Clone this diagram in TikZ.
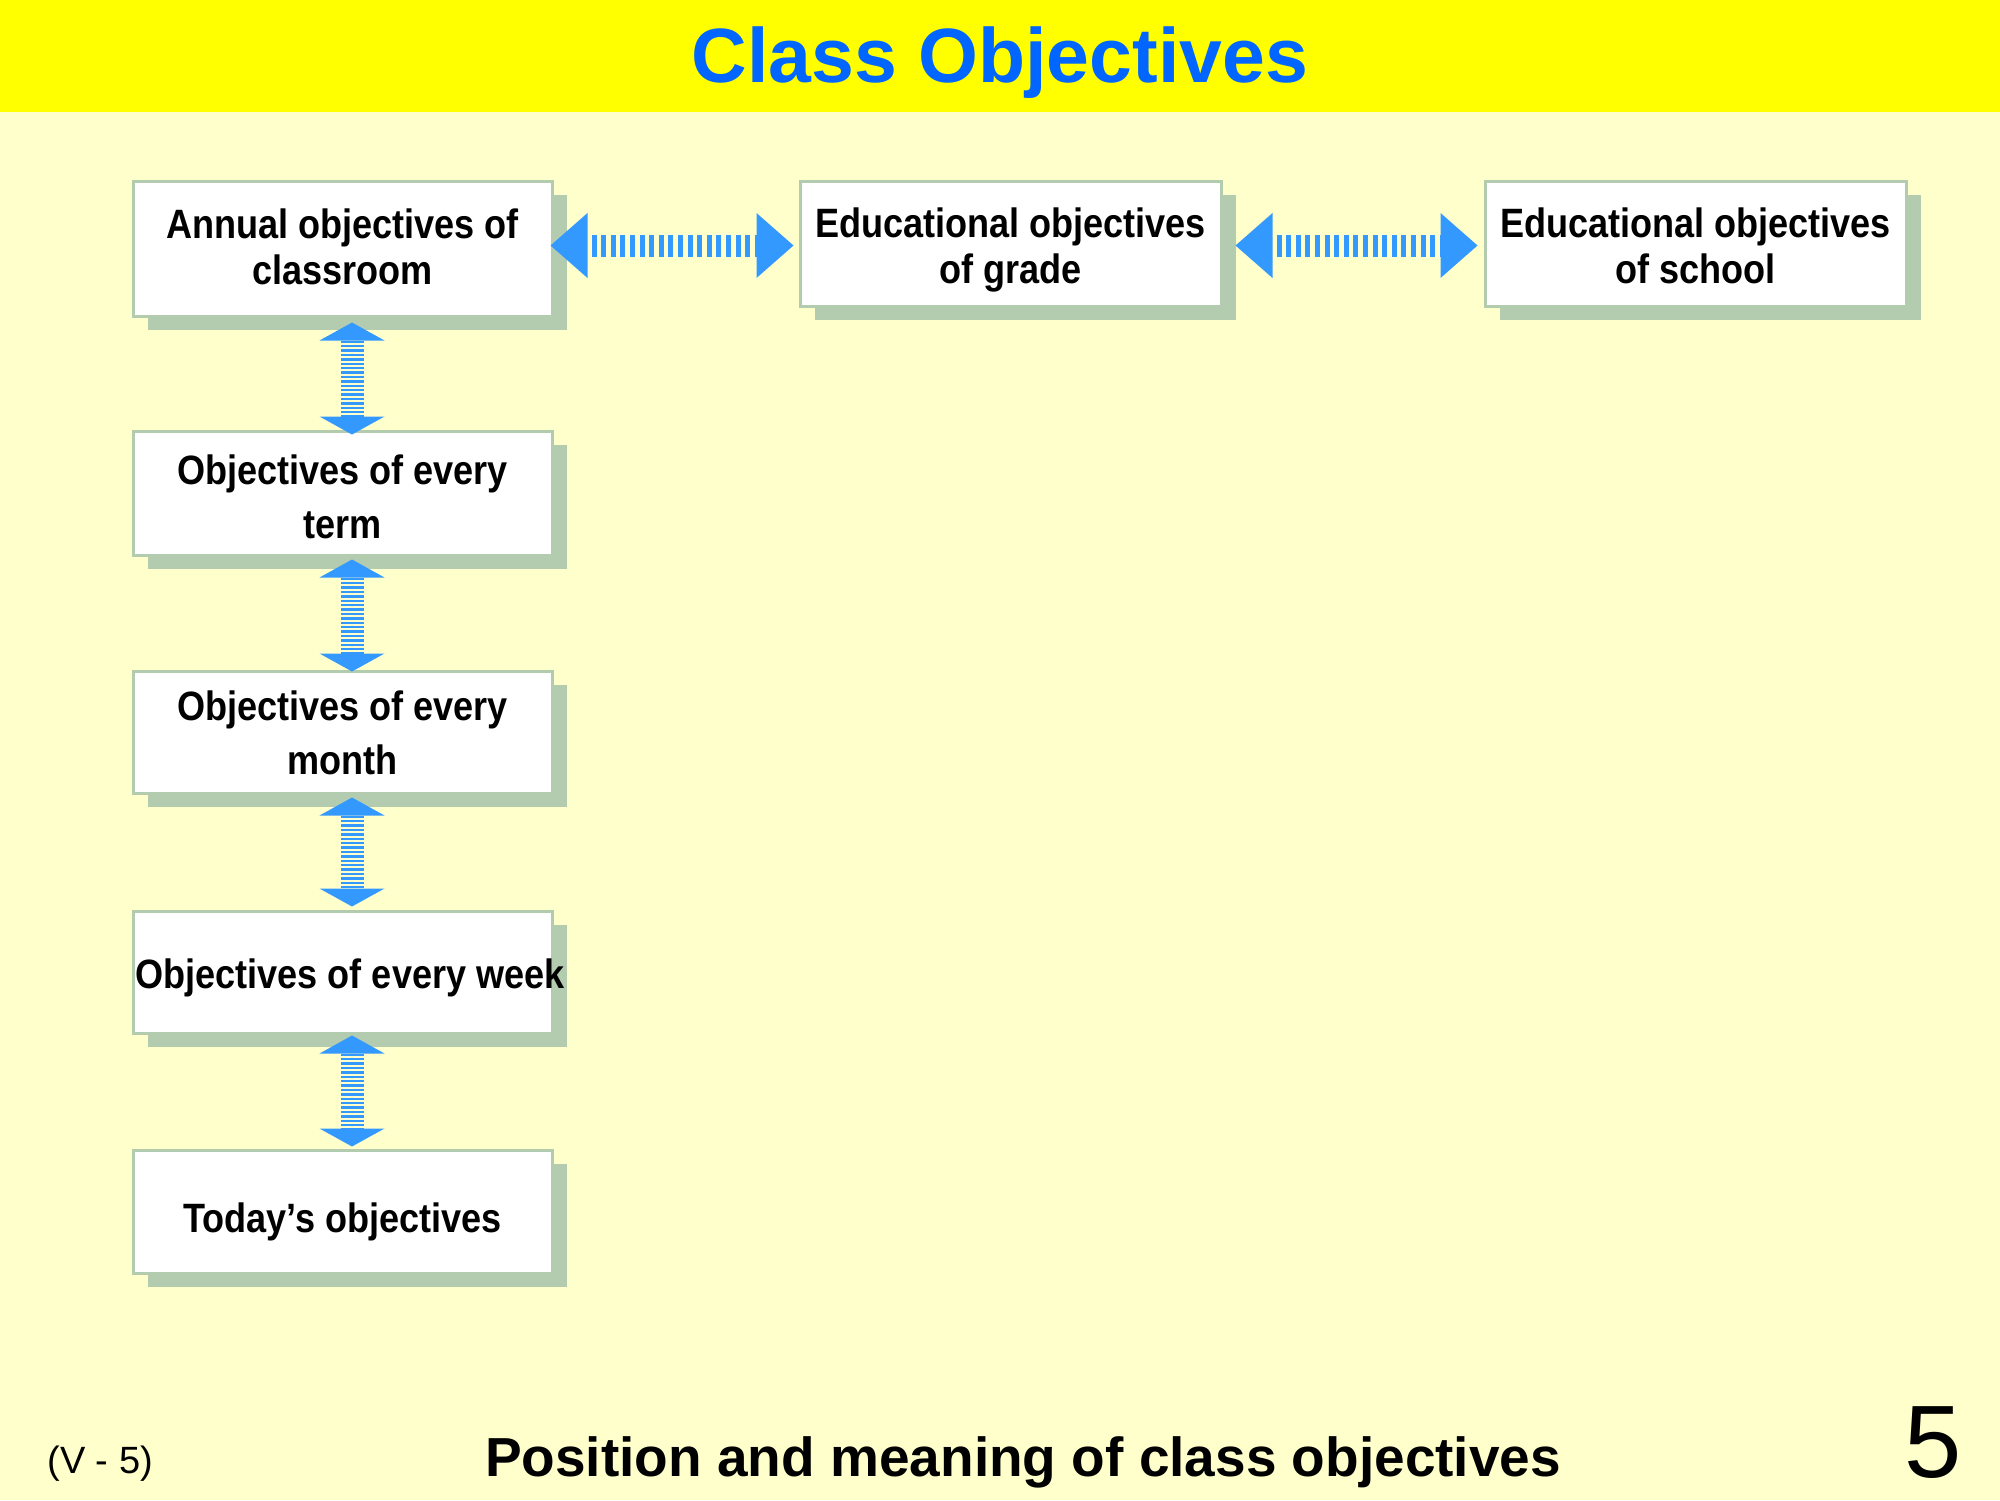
\documentclass[tikz,border=0pt]{standalone}
\usepackage{fontspec}
\setmainfont{Liberation Sans}
\newfontfamily\boxfontfam[FakeStretch=0.88]{Liberation Sans}
\usetikzlibrary{arrows.meta,calc,shadows}
\definecolor{bgyellow}{HTML}{FFFFCC}
\definecolor{hdryellow}{HTML}{FFFF00}
\definecolor{titleblue}{HTML}{0066FF}
\definecolor{arrowblue}{HTML}{3399FF}
\definecolor{shadowgreen}{HTML}{B3CCB0}
% a line of box text with no height or depth of its own
\newcommand{\bline}[1]{\smash{#1}}
% first-line strut that sets where the baselines sit in the box
\newcommand{\bdrop}[1]{\rule{0pt}{#1}}
\begin{document}
\begin{tikzpicture}[x=0.5pt,y=-0.5pt,
  objbox/.style={draw=shadowgreen, line width=1.5pt, fill=white, inner sep=0pt,
    minimum width=209.5pt, align=center,
    font=\boxfontfam\bfseries\fontsize{20.5pt}{23pt}\selectfont,
    drop shadow={shadow xshift=7.5pt, shadow yshift=-7pt, fill=shadowgreen, opacity=1}},
  widesp/.style={font=\boxfontfam\bfseries\fontsize{20.5pt}{27pt}\selectfont},
  vconn/.style={draw=arrowblue, line width=11.5pt, dash pattern=on 1.25pt off 0.95pt,
    {Triangle[width=32.5pt,length=9pt,line width=0pt]}-{Triangle[width=32.5pt,length=9pt,line width=0pt]}},
  hconn/.style={draw=arrowblue, line width=11pt, dash pattern=on 2.5pt off 2.3pt, dash phase=-2pt,
    {Triangle[width=32.5pt,length=18.5pt,line width=0pt]}-{Triangle[width=32.5pt,length=18.5pt,line width=0pt]}},
  txt/.style={inner sep=0pt}
]
\useasboundingbox (0,0) rectangle (2000,1500);
\fill[bgyellow] (0,0) rectangle (2000,1500);
\fill[hdryellow] (0,0) rectangle (2000,112);
\node[txt, anchor=base, text=titleblue, font=\bfseries\fontsize{38.5pt}{44pt}\selectfont] (title) at (1000,82) {Class Objectives};

% boxes
\node[objbox, minimum height=67.5pt] (annual) at (342.5,248.5)
  {\bdrop{12.5pt}\bline{Annual objectives of}\\\bline{classroom}};
\node[objbox, minimum height=62.5pt, minimum width=210.5pt] (grade) at (1010.5,243.5)
  {\bdrop{17pt}\bline{Educational objectives}\\\bline{of grade}};
\node[objbox, minimum height=62.5pt, minimum width=210.5pt] (school) at (1695.5,243.5)
  {\bdrop{17pt}\bline{Educational objectives}\\\bline{of school}};
\node[objbox, widesp, minimum height=62pt] (term) at (342.5,493)
  {\bdrop{18.5pt}\bline{Objectives of every}\\\bline{term}};
\node[objbox, widesp, minimum height=61pt] (month) at (342.5,732)
  {\bdrop{15pt}\bline{Objectives of every}\\\bline{month}};
\node[objbox, minimum height=61pt] (week) at (342.5,972)
  {\bdrop{16pt}\bline{\makebox[200pt]{\hspace{7.5pt}Objectives of every week}}};
\node[objbox, minimum height=61.5pt] (today) at (342.5,1211.5)
  {\bdrop{20.5pt}\bline{Today’s objectives}};

% horizontal connectors
\coordinate (h1s) at ($(annual.east |- grade.center)+(-3,2)$);
\coordinate (h1e) at ($(grade.west)+(-5,2)$);
\coordinate (h2s) at ($(grade.east)+(13,2)$);
\coordinate (h2e) at ($(school.west)+(-6,2)$);
\draw[hconn] (h1s) -- (h1e);
\draw[hconn] (h2s) -- (h2e);

% vertical connectors
\coordinate (v1s) at ($(annual.south)+(9.5,5)$);
\coordinate (v1e) at ($(term.north)+(9.5,5)$);
\coordinate (v2s) at ($(term.south)+(9.5,3)$);
\coordinate (v2e) at ($(month.north)+(9.5,2)$);
\coordinate (v3s) at ($(month.south)+(9.5,3)$);
\coordinate (v3e) at ($(week.north)+(9.5,-3)$);
\coordinate (v4s) at ($(week.south)+(9.5,1)$);
\coordinate (v4e) at ($(today.north)+(9.5,-2)$);
\draw[vconn] (v1s) -- (v1e);
\draw[vconn] (v2s) -- (v2e);
\draw[vconn] (v3s) -- (v3e);
\draw[vconn] (v4s) -- (v4e);

% footer
\node[txt, anchor=base west, font=\fontsize{19pt}{22pt}\selectfont] (code) at (47,1473) {(V - 5)};
\node[txt, anchor=base, font=\bfseries\fontsize{27.5pt}{32pt}\selectfont] (footer) at (1023,1476) {Position and meaning of class objectives};
\node[txt, anchor=base west, font=\fontsize{51.5pt}{56pt}\selectfont] (pagenum) at (1904,1477) {5};
\end{tikzpicture}
\end{document}
